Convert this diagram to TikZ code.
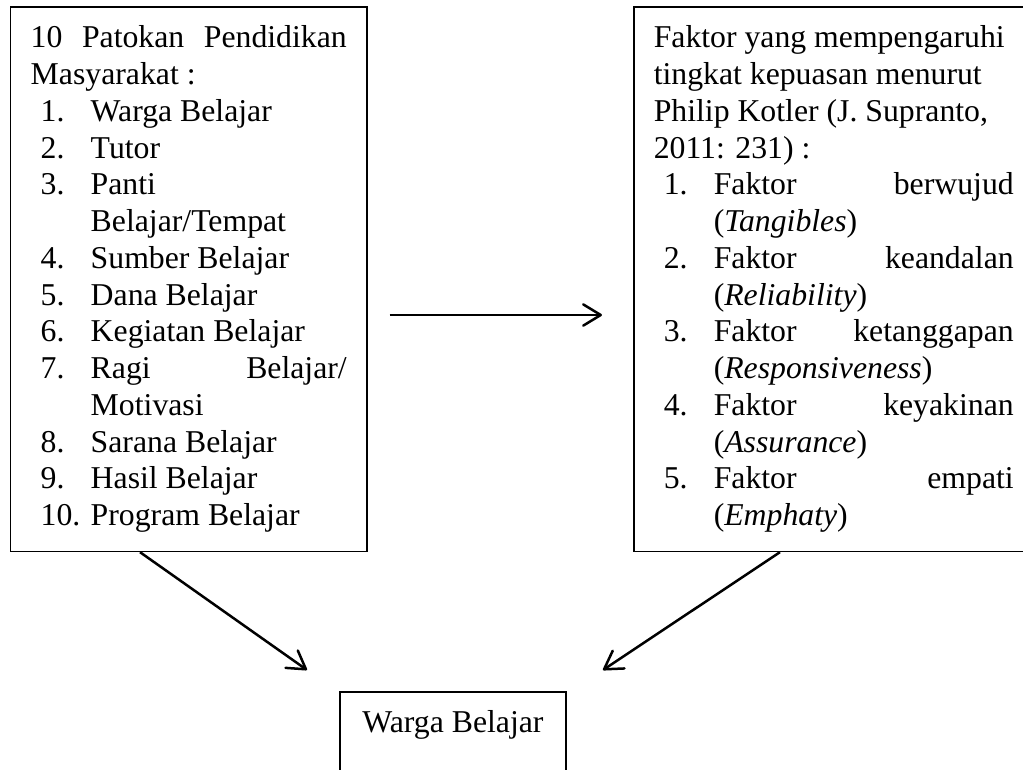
\documentclass[tikz,border=0pt]{standalone}
\usepackage{fontspec}
\setmainfont{Liberation Serif}
\usepackage{enumitem}
\usetikzlibrary{arrows.meta,calc}

\setlist[enumerate]{label={\makebox[20pt][l]{\arabic*.}}, nosep, leftmargin=24pt,
  labelwidth=20pt, labelsep=0pt, itemindent=0pt, align=left}
\newcommand{\faktor}[2]{\item Faktor \hfill #1\\ (\textit{#2})}

\tikzset{
  txtbox/.style={draw, line width=0.6pt, inner xsep=8pt, inner ysep=7.6pt,
    font=\fontsize{12.7}{14.7}\selectfont},
  flow/.style={-{Straight Barb[length=7pt,width=8.5pt,round]}, line width=1pt},
}

\begin{document}
\begin{tikzpicture}[x=0.4pt,y=0.4pt]
  \useasboundingbox (0,0) rectangle (1023,-769);
  \clip (0,0) rectangle (1023,-769);

  % patokan pendidikan masyarakat
  \node[txtbox, anchor=north west, text width=126.4pt, align=justify] (lbox) at (10,-6) {
    10\hfill Patokan\hfill Pendidikan\\ Masyarakat :
    \begin{enumerate}
      \item Warga Belajar
      \item Tutor
      \item Panti\\ Belajar/Tempat
      \item Sumber Belajar
      \item Dana Belajar
      \item Kegiatan Belajar
      \item Ragi \hfill Belajar/\\ Motivasi
      \item Sarana Belajar
      \item Hasil Belajar
      \item Program Belajar
    \end{enumerate}
  };

  % faktor kepuasan
  \node[txtbox, anchor=north west, text width=144pt, align=justify] (rbox) at (633,-6) {
    Faktor yang mempengaruhi\\ tingkat kepuasan menurut\\
    Philip Kotler (J. Supranto,\\ 2011: 231) :
    \begin{enumerate}
      \faktor{berwujud}{Tangibles}
      \faktor{keandalan}{Reliability}
      \faktor{ketanggapan}{Responsiveness}
      \faktor{keyakinan}{Assurance}
      \faktor{empati}{Emphaty}
    \end{enumerate}
  };

  \node[txtbox, anchor=north, minimum width=90.4pt, text depth=40pt] (wbox) at (453,-691) {Warga Belajar};

  \coordinate (lt) at (307,-670);
  \coordinate (rt) at (603,-670);

  \draw[flow, shorten <=8.8pt, shorten >=12.4pt] (lbox.east |- 0,-315) -- (rbox.west |- 0,-315);
  \draw[flow] ($(lbox.south west)+(130,0)$) -- (lt);
  \draw[flow] ($(rbox.south west)+(147,0)$) -- (rt);
\end{tikzpicture}
\end{document}
